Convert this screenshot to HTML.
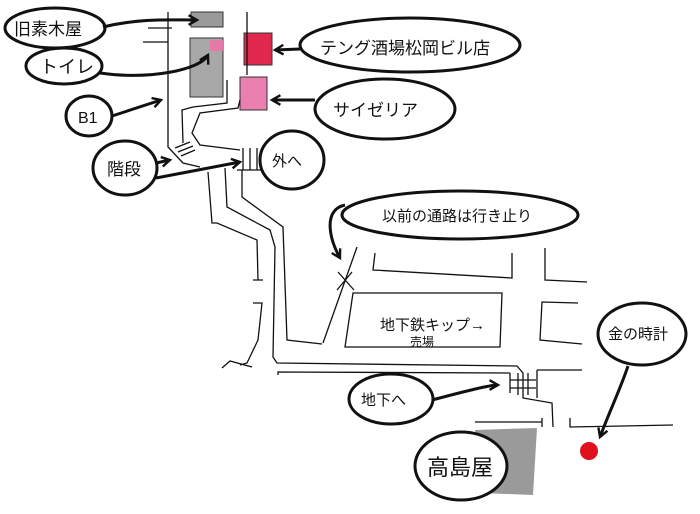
<!DOCTYPE html>
<html><head><meta charset="utf-8"><style>
html,body{margin:0;padding:0;background:#fff;width:700px;height:514px;overflow:hidden}
svg{display:block}
text{font-family:"Liberation Sans","Noto Sans CJK JP",sans-serif;fill:#111}
</style></head><body>
<svg width="700" height="514" viewBox="0 0 700 514" xmlns="http://www.w3.org/2000/svg">
<defs>
<marker id="a" viewBox="0 0 10 10" refX="8" refY="5" markerWidth="4" markerHeight="4" orient="auto">
<path d="M1,1 L8,5 L1,9" fill="none" stroke="#111" stroke-width="2"/>
</marker>
</defs>
<rect width="700" height="514" fill="#fff"/>
<!-- fills -->
<rect x="191" y="12" width="32" height="15" fill="#9a9a9a" stroke="#333"/>
<rect x="190" y="38" width="33" height="59" fill="#a8a8a8" stroke="#333"/>
<rect x="210" y="40" width="13" height="11" fill="#e57aa8"/>
<rect x="244" y="33" width="28" height="32" fill="#e0284f" stroke="#333"/>
<rect x="240" y="77" width="27" height="33" fill="#ea7fb0" stroke="#333"/>
<path d="M475,430 L537,428 L533,495 L480,493 Z" fill="#9a9a9a"/>
<circle cx="589" cy="451" r="9" fill="#e0101c"/>
<!-- thin lines -->
<g fill="none" stroke="#111" stroke-width="1.3">
<path d="M168,12 L168,147 L183,163 L200,167"/>
<path d="M148,28 L172,28 M143,42 L168,42"/>
<path d="M247,12 L247,75"/>
<path d="M227,80 L227,103 L193,107 L182,110 L183,143"/>
<path d="M240,100 L238,108 L200,113 L192,133 L200,145 L240,150"/>
<path d="M175,148 L190,142 M178,152 L193,146 M181,156 L195,150"/>
<path d="M243,148 L243,170 M250,148 L250,170 M257,148 L257,170 M237,170 L262,170"/>
<path d="M208,172 L212,223 L217,223 L257,240 L258,280 M253,280 L263,280 M253,303 L262,303 L258,340 L247,363 L240,365 M222,368 L230,361 L252,367"/>
<path d="M225,168 L227,207 L270,230 L275,247 L273,357 L277,363 L517,366 L523,373 L523,398 L552,403 L553,427"/>
<path d="M242,170 L242,197 L283,227 L287,340 L322,344"/>
<path d="M357,247 L323,343"/>
<path d="M338,272 L354,290 M352,272 L337,290"/>
<path d="M375,253 L373,270 L512,278 L512,253"/>
<path d="M545,248 L545,280 L587,282"/>
<path d="M353,293 L502,293 L500,347 L345,347 Z"/>
<path d="M578,303 L542,302 L540,340 L582,344"/>
<path d="M278,375 L278,372 L510,373 M537,370 L582,370"/>
<path d="M510,373 L510,393 M510,380 L536,380 M510,388 L536,388 M518,373 L518,395 M528,373 L528,395 M537,370 L537,398"/>
<path d="M475,422 L542,422 M542,418 L542,427"/>
<path d="M570,418 L570,427 L673,425"/>
</g>
<!-- bubbles -->
<g fill="#fff" stroke="#111" stroke-width="3">
<ellipse cx="55" cy="28" rx="50" ry="20"/>
<ellipse cx="64" cy="66" rx="38" ry="18"/>
<ellipse cx="89" cy="116" rx="23" ry="20"/>
<ellipse cx="125" cy="168" rx="32" ry="27"/>
<ellipse cx="292" cy="160" rx="32" ry="29"/>
<ellipse cx="410" cy="45" rx="110" ry="27"/>
<ellipse cx="385" cy="109" rx="70" ry="30"/>
<ellipse cx="460" cy="215" rx="118" ry="24"/>
<ellipse cx="642" cy="334" rx="44" ry="31"/>
<ellipse cx="391" cy="399" rx="42" ry="25"/>
<ellipse cx="461" cy="466" rx="46" ry="34"/>
</g>
<!-- arrows -->
<g fill="none" stroke="#111" stroke-width="3" marker-end="url(#a)">
<path d="M103,27 C140,18 170,20 197,20"/>
<path d="M100,73 C150,80 200,70 208,55"/>
<path d="M112,116 L161,100"/>
<path d="M156,163 L170,160"/>
<path d="M156,178 L240,162"/>
<path d="M300,49 L275,50"/>
<path d="M315,100 L272,100"/>
<path d="M345,205 C322,210 330,240 340,258"/>
<path d="M628,366 C620,390 610,410 600,437"/>
<path d="M432,400 C470,390 490,385 498,385"/>
</g>
<!-- labels -->
<text x="14" y="35" font-size="17">旧素木屋</text>
<text x="40" y="73" font-size="18">トイレ</text>
<text x="78" y="123" font-size="16">B1</text>
<text x="107" y="175" font-size="17">階段</text>
<text x="272" y="166" font-size="15">外へ</text>
<text x="320" y="54" font-size="17">テング酒場松岡ビル店</text>
<text x="333" y="116" font-size="17">サイゼリア</text>
<text x="382" y="221" font-size="15">以前の通路は行き止り</text>
<text x="380" y="330" font-size="15">地下鉄キップ→</text>
<text x="410" y="346" font-size="12">売場</text>
<text x="608" y="339" font-size="15">金の時計</text>
<text x="361" y="405" font-size="15">地下へ</text>
<text x="427" y="475" font-size="22">高島屋</text>
</svg>
</body></html>
